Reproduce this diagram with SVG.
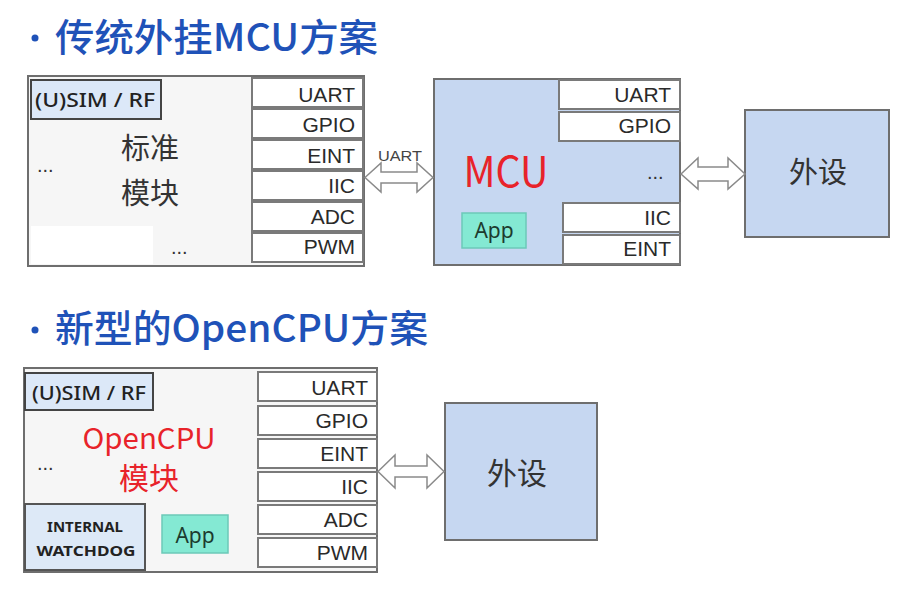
<svg xmlns="http://www.w3.org/2000/svg" width="920" height="590" viewBox="0 0 920 590">
<style>
.title{font-family:"Noto Sans CJK SC","Noto Sans",sans-serif;font-size:38px;fill:#1f52b8;font-weight:500;}
.module{fill:#f6f6f6;stroke:#6e6e6e;stroke-width:2;}
.blue{fill:#c6d7f1;stroke:#6e6e6e;stroke-width:2;}
.cell{fill:#ffffff;stroke:#7a7a7a;stroke-width:2;}
.port{font-family:"Liberation Sans",Arial,sans-serif;font-size:21px;fill:#2a2a2a;text-anchor:end;}
.sim{fill:#dce8f8;stroke:#444;stroke-width:2;}
.simt{font-family:"Noto Sans",sans-serif;font-size:19px;fill:#222;font-weight:500;}
.cjk{font-family:"Noto Sans CJK SC",sans-serif;fill:#333;text-anchor:middle;}
.red{font-family:"Noto Sans CJK SC","Noto Sans",sans-serif;fill:#e8232a;text-anchor:middle;}
.dots{font-family:"Liberation Sans",sans-serif;font-size:20px;fill:#333;}
.app{fill:#84e9d3;stroke:#6cc9b8;stroke-width:1.5;}
.appt{font-family:"Noto Sans",sans-serif;font-size:21px;fill:#1d3b2e;text-anchor:middle;}
.arrow{fill:#ffffff;stroke:#8a8a8a;stroke-width:1.5;stroke-linejoin:miter;}
.wd{fill:#dde9f7;stroke:#555;stroke-width:2;}
.wdt{font-family:"Noto Sans",sans-serif;font-size:15px;font-weight:bold;fill:#222;text-anchor:middle;}
</style>

<g id="title1">
<circle cx="35" cy="38" r="3.5" fill="#1f52b8"/>
<text class="title" x="55" y="51" textLength="323" lengthAdjust="spacingAndGlyphs">传统外挂MCU方案</text>
</g>

<g id="standard-module">
<rect class="module" x="28" y="76" width="336" height="190"/>
<rect x="31" y="226" width="122" height="38" fill="#ffffff"/>
<rect class="sim" x="31" y="80" width="130" height="39"/>
<text class="simt" x="35" y="107" textLength="120" lengthAdjust="spacingAndGlyphs">(U)SIM / RF</text>
<text class="cjk" x="150" y="159" font-size="29">标准</text>
<text class="cjk" x="150" y="204" font-size="29">模块</text>
<text class="dots" x="37" y="172">...</text>
<text class="dots" x="171" y="254">...</text>
<rect class="cell" x="252" y="78" width="111" height="29"/>
<rect class="cell" x="252" y="109" width="111" height="29"/>
<rect class="cell" x="252" y="140" width="111" height="29"/>
<rect class="cell" x="252" y="171" width="111" height="29"/>
<rect class="cell" x="252" y="202" width="111" height="29"/>
<rect class="cell" x="252" y="233" width="111" height="29"/>
<text class="port" x="355" y="101.5">UART</text>
<text class="port" x="355" y="132">GPIO</text>
<text class="port" x="355" y="162.5">EINT</text>
<text class="port" x="355" y="193">IIC</text>
<text class="port" x="355" y="223.5">ADC</text>
<text class="port" x="355" y="254">PWM</text>
</g>

<g id="mcu">
<rect class="blue" x="434" y="79" width="246" height="186"/>
<rect class="cell" x="559" y="80" width="121" height="29"/>
<rect class="cell" x="559" y="112" width="121" height="29"/>
<rect class="cell" x="563" y="203" width="117" height="29"/>
<rect class="cell" x="563" y="235" width="117" height="29"/>
<text class="port" x="671" y="102">UART</text>
<text class="port" x="671" y="133">GPIO</text>
<text class="port" x="671" y="225">IIC</text>
<text class="port" x="671" y="256">EINT</text>
<text class="red" x="506" y="187" font-size="42" textLength="85" lengthAdjust="spacingAndGlyphs">MCU</text>
<text class="dots" x="647" y="179">...</text>
<rect class="app" x="462" y="213" width="64" height="35"/>
<text class="appt" x="494" y="238">App</text>
</g>

<g id="peripheral1">
<rect class="blue" x="745" y="110" width="144" height="127"/>
<text class="cjk" x="818" y="183" font-size="29">外设</text>
</g>

<g id="title2">
<circle cx="35" cy="330" r="3.5" fill="#1f52b8"/>
<text class="title" x="55" y="342" textLength="373" lengthAdjust="spacingAndGlyphs">新型的OpenCPU方案</text>
</g>

<g id="opencpu-module">
<rect class="module" x="24" y="368" width="353" height="204"/>
<rect class="sim" x="25" y="373" width="128" height="37"/>
<text class="simt" x="32" y="400" textLength="114" lengthAdjust="spacingAndGlyphs">(U)SIM / RF</text>
<text class="red" x="149" y="449" font-size="29" textLength="133" lengthAdjust="spacingAndGlyphs">OpenCPU</text>
<text class="red" x="149" y="489" font-size="30">模块</text>
<text class="dots" x="37" y="470">...</text>
<rect class="wd" x="25" y="504" width="120" height="66"/>
<text class="wdt" x="85" y="532">INTERNAL</text>
<text class="wdt" x="86" y="556" textLength="99" lengthAdjust="spacingAndGlyphs">WATCHDOG</text>
<rect class="app" x="162" y="515" width="66" height="38"/>
<text class="appt" x="195" y="543" font-size="22">App</text>
<rect class="cell" x="258" y="372" width="119" height="29"/>
<rect class="cell" x="258" y="406" width="119" height="29"/>
<rect class="cell" x="258" y="439" width="119" height="29"/>
<rect class="cell" x="258" y="472" width="119" height="29"/>
<rect class="cell" x="258" y="505" width="119" height="29"/>
<rect class="cell" x="258" y="538" width="119" height="29"/>
<text class="port" x="368" y="395" font-size="22">UART</text>
<text class="port" x="368" y="428" font-size="22">GPIO</text>
<text class="port" x="368" y="461" font-size="22">EINT</text>
<text class="port" x="368" y="494" font-size="22">IIC</text>
<text class="port" x="368" y="527" font-size="22">ADC</text>
<text class="port" x="368" y="560" font-size="22">PWM</text>
</g>

<g id="peripheral2">
<rect class="blue" x="445" y="403" width="152" height="137"/>
<text class="cjk" x="517" y="484" font-size="30">外设</text>
</g>

<g id="connectors">
<path class="arrow" d="M365,177.5 L381,163 L381,172 L417,172 L417,163 L433,177.5 L417,192 L417,183 L381,183 L381,192 Z"/>
<text x="400" y="161" font-family="Liberation Sans,Arial,sans-serif" font-size="14" fill="#444" text-anchor="middle" textLength="44" lengthAdjust="spacingAndGlyphs">UART</text>
<path class="arrow" d="M681,174 L698,158 L698,167 L728,167 L728,158 L745,174 L728,189 L728,181 L698,181 L698,189 Z"/>
<path class="arrow" d="M378,471.5 L395,455 L395,466 L427,466 L427,455 L444,471.5 L427,488 L427,477 L395,477 L395,488 Z"/>
</g>
</svg>
